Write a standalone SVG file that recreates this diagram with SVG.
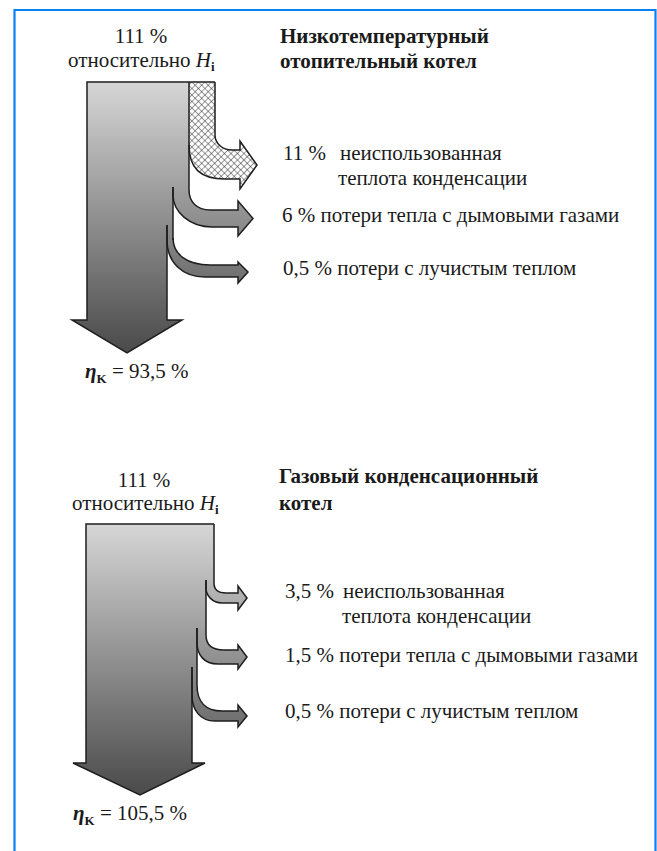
<svg xmlns="http://www.w3.org/2000/svg" width="657" height="851" viewBox="0 0 657 851">
<defs>
<linearGradient id="g1" gradientUnits="userSpaceOnUse" x1="0" y1="82" x2="0" y2="353"><stop offset="0" stop-color="#d6d6d6"/><stop offset="1" stop-color="#4a4a4a"/></linearGradient>
<linearGradient id="g2" gradientUnits="userSpaceOnUse" x1="0" y1="524" x2="0" y2="795"><stop offset="0" stop-color="#d6d6d6"/><stop offset="1" stop-color="#4a4a4a"/></linearGradient>
<pattern id="hatch" patternUnits="userSpaceOnUse" width="4.6" height="4.6" patternTransform="rotate(45)"><rect width="4.6" height="4.6" fill="#fff"/><path d="M0,0H4.6M0,0V4.6" stroke="#222" stroke-width="0.9"/></pattern>
</defs>
<style>
.t{font-family:"Liberation Serif","Times New Roman","DejaVu Serif",serif;font-size:21px;fill:#1a1a1a}
.b{font-weight:bold}
.ln{fill:none;stroke:#1e1e1e;stroke-width:1.5;stroke-linejoin:miter}
.it{font-style:italic}
.sub{font-size:13px;font-weight:bold}
</style>
<path d="M14.5,851V10H655.5V851" fill="none" stroke="#0a80f5" stroke-width="2.2"/>

<g id="boiler1">
<path d="M87,82H189V192H173V235H167V320H182L127,353L72,320H87Z" fill="url(#g1)"/>
<path d="M173,187H189V190C189,202 197,210 210,210H238V201L253,218.5L238,236V227H212C190,227 173,212 173,195Z" fill="url(#g1)"/>
<path d="M167,225H173V238C173,255 188,265 210,265H238V262L248,272L238,283V277H205C182,277 167,262 167,240Z" fill="url(#g1)"/>
<path d="M189,82H215V135C215,143 222,150 232,150H240V141L257,165L240,189V179H225C200,179 189,168 189,145Z" fill="url(#hatch)"/>
</g>
<g id="connectors1">
<path class="ln" d="M167,225V320H182L127,353L72,320H87V82H215"/>
<path class="ln" d="M189,82V190C189,202 197,210 210,210H238V201L253,218.5L238,236V227H212C190,227 173,212 173,195V187"/>
<path class="ln" d="M173,187V240"/>
<path class="ln" d="M189,145C189,168 200,179 225,179H240V189L257,165L240,141V150H232C222,150 215,143 215,135V82"/>
<path class="ln" d="M173,238C173,255 188,265 210,265H238V262L248,272L238,283V277H205C182,277 167,262 167,240V225"/>
</g>
<g id="labels1" font-family="Liberation Serif, serif">
<text class="t" x="141" y="43" text-anchor="middle">111 %</text>
<text class="t" x="68" y="67">относительно <tspan class="it">H</tspan><tspan class="sub" dy="4">i</tspan></text>
<text class="t b" x="280" y="43">Низкотемпературный</text>
<text class="t b" x="280" y="68">отопительный котел</text>
<text class="t" x="283" y="160">11 %  <tspan x="340">неиспользованная</tspan></text>
<text class="t" x="338" y="185">теплота конденсации</text>
<text class="t" x="282" y="222">6 % потери тепла с дымовыми газами</text>
<text class="t" x="283" y="275">0,5 % потери с лучистым теплом</text>
<text class="t" x="85" y="378"><tspan class="it b">η</tspan><tspan class="sub" dy="5">K</tspan><tspan dy="-5"> = 93,5 %</tspan></text>
</g>

<g id="boiler2">
<path d="M86,524H214V585H206V630H197V668H192V763H205L140,795L73,763H86Z" fill="url(#g2)"/>
<path d="M206,580H214V583C214,589 218,593 226,593H238V586L247,598L238,610V603H222C212,603 206,595 206,588Z" fill="url(#g2)"/>
<path d="M197,628H206V635C206,645 212,650 224,650H238V645L247,657L238,669V664H218C204,664 197,655 197,642Z" fill="url(#g2)"/>
<path d="M192,667H197V685C197,702 206,711 222,711H238V705L247,716L238,727V721H215C200,721 192,710 192,695Z" fill="url(#g2)"/>
</g>
<g id="connectors2">
<path class="ln" d="M192,667V763H205L140,795L73,763H86V524H214"/>
<path class="ln" d="M214,524V583C214,589 218,593 226,593H238V586L247,598L238,610V603H222C212,603 206,595 206,588V580"/>
<path class="ln" d="M206,580V635C206,645 212,650 224,650H238V645L247,657L238,669V664H218C204,664 197,655 197,642V628"/>
<path class="ln" d="M197,628V685C197,702 206,711 222,711H238V705L247,716L238,727V721H215C200,721 192,710 192,695V667"/>
</g>
<g id="labels2" font-family="Liberation Serif, serif">
<text class="t" x="144" y="487" text-anchor="middle">111 %</text>
<text class="t" x="72" y="510">относительно <tspan class="it">H</tspan><tspan class="sub" dy="4">i</tspan></text>
<text class="t b" x="279" y="483">Газовый конденсационный</text>
<text class="t b" x="279" y="510">котел</text>
<text class="t" x="285" y="598">3,5 %  <tspan x="343">неиспользованная</tspan></text>
<text class="t" x="342" y="623">теплота конденсации</text>
<text class="t" x="285" y="662">1,5 % потери тепла с дымовыми газами</text>
<text class="t" x="285" y="718">0,5 % потери с лучистым теплом</text>
<text class="t" x="73" y="820"><tspan class="it b">η</tspan><tspan class="sub" dy="5">K</tspan><tspan dy="-5"> = 105,5 %</tspan></text>
</g>
</svg>
